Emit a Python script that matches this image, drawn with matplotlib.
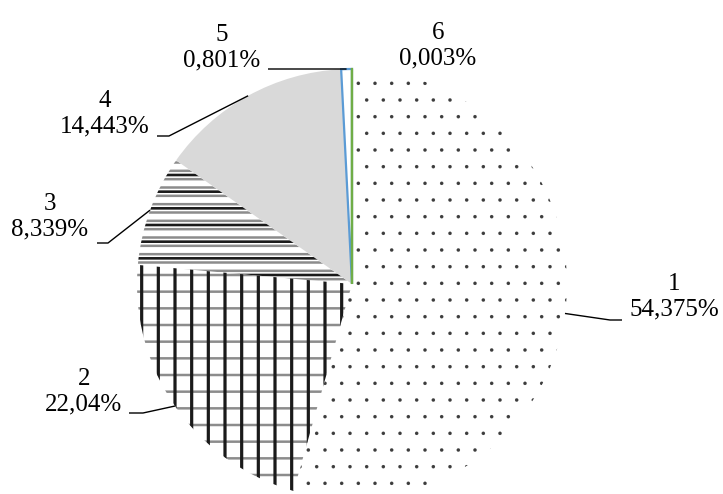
import numpy as np
import matplotlib
matplotlib.use('Agg')
import matplotlib.pyplot as plt
from matplotlib.patches import Wedge

# ---- data ----
categories = ['1', '2', '3', '4', '5', '6']
shares = [54.375, 22.04, 8.339, 14.443, 0.801, 0.003]
label_texts = [f"{c}\n{str(v).replace('.', ',')}%" for c, v in zip(categories, shares)]

# ---- layout (pixel coordinates, y measured from top) ----
W, H = 723, 494
CX, CY_TOP, R = 352, 284, 215
label_pos = [(674, 297), (84, 392), (50, 217), (105, 114), (222, 48), (438, 46)]
leader_elbow = [(610, 320), (143, 413), (108, 243), (169, 136), (345, 69), None]
leader_end = [(622, 320), (129, 413), (97, 243), (157, 136), (268, 69), None]

faces = ['white', 'white', 'white', '#d9d9d9', 'white', 'white']
edges = ['#3c3c3c', '#8c8c8c', '#8c8c8c', '#d9d9d9', '#5b9bd5', '#70ad47']
lws = [0, 0, 0, 0, 1.6, 1.6]
hatches = ['.', '-', '--', None, None, None]
hatch_lw = [0.1, 1.8, 1.8, 1.0, 1.0, 1.0]
# second hatch layer (colour, pattern, linewidth)
overlays = {1: ('#1a1a1a', '|', 2.3), 2: ('#1a1a1a', '-', 1.9)}

fig = plt.figure(figsize=(W / 100, H / 100), dpi=100)
ax = fig.add_axes([0, 0, 1, 1])
CY = H - CY_TOP

wedges, _ = ax.pie(shares, startangle=90, counterclock=False, center=(CX, CY),
                   radius=R, colors=faces, frame=True)
ax.set_xlim(0, W)
ax.set_ylim(0, H)
ax.set_aspect('equal')
ax.axis('off')


def set_hlw(p, lw):
    try:
        p.set_hatch_linewidth(lw)
    except AttributeError:
        pass


for i, w in enumerate(wedges):
    w.set_edgecolor(edges[i])
    w.set_linewidth(lws[i])
    if hatches[i]:
        w.set_hatch(hatches[i])
        set_hlw(w, hatch_lw[i])
    w.set_zorder(1 if i < 4 else 3)

for i, (col, hp, lw) in overlays.items():
    w = wedges[i]
    ov = Wedge(w.center, w.r, w.theta1, w.theta2, facecolor='none',
               edgecolor=col, linewidth=0, hatch=hp, zorder=2)
    set_hlw(ov, lw)
    ax.add_patch(ov)

# labels and leader lines
font = dict(family='Liberation Serif', size=18)
for i, w in enumerate(wedges):
    lx, ly = label_pos[i]
    ax.text(lx, H - ly, label_texts[i], ha='center', va='center',
            linespacing=1.2, fontdict=font, zorder=5)
    if leader_elbow[i] is not None:
        mid = np.deg2rad((w.theta1 + w.theta2) / 2)
        ex, ey = CX + R * np.cos(mid), CY + R * np.sin(mid)
        bx, by = leader_elbow[i]
        tx, ty = leader_end[i]
        ax.plot([ex, bx, tx], [ey, H - by, H - ty], color='black', lw=1.0,
                solid_capstyle='butt', zorder=4)

fig.savefig('out.png', dpi=100, facecolor='white')
